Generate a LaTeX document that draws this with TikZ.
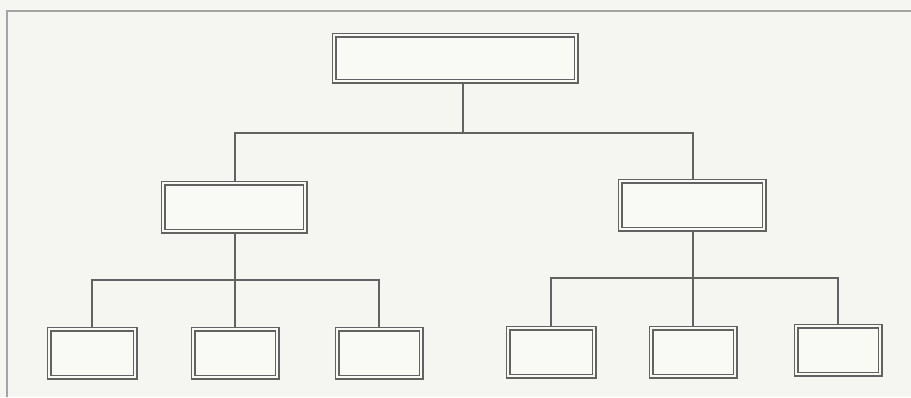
\documentclass[tikz,border=0pt]{standalone}
\usetikzlibrary{backgrounds}
\definecolor{paper}{HTML}{F5F6F1}
\definecolor{boxfill}{HTML}{F9F9F6}
\definecolor{ink}{HTML}{626262}
\definecolor{frameink}{HTML}{A4A4A4}
\begin{document}
\begin{tikzpicture}[x=1pt,y=-1pt,
  box/.style={draw=ink,line width=1.5pt,double=boxfill,double distance=2pt,
    fill=boxfill,rectangle,inner sep=0pt,minimum height=48pt},
  conn/.style={draw=ink,line width=1.2pt}]
\useasboundingbox (0,0) rectangle (911,397);
% boxes
\node[box,minimum width=242pt,minimum height=46pt] (top) at (455,58) {};
\node[box,minimum width=142pt] (midL) at (234,207) {};
\node[box,minimum width=144pt] (midR) at (692,205) {};
\node[box,minimum width=86pt] (b1) at (92,353) {};
\node[box,minimum width=84pt] (b2) at (235,353) {};
\node[box,minimum width=84pt] (b3) at (379,353) {};
\node[box,minimum width=86pt] (b4) at (551,352) {};
\node[box,minimum width=84pt] (b5) at (693,352) {};
\node[box,minimum width=84pt] (b6) at (838,350) {};
\coordinate (j1) at (463,133);
\coordinate (jL) at (235,280);
\coordinate (jR) at (693,278);
\begin{scope}[on background layer]
  \fill[paper] (0,0) rectangle (911,397);
  \draw[frameink,line width=1.2pt] (911,11) -- (7,11) -- (7,397);
  \draw[conn] (top.south -| j1) -- (j1);
  \draw[conn] (midL.north -| jL) |- (j1) -| (midR.north -| jR);
  \draw[conn] (midL.south -| jL) -- (jL);
  \draw[conn] (b1.north) |- (jL) -| (b3.north);
  \draw[conn] (jL) -- (b2.north);
  \draw[conn] (midR.south -| jR) -- (jR);
  \draw[conn] (b4.north) |- (jR) -| (b6.north);
  \draw[conn] (jR) -- (b5.north);
\end{scope}
\end{tikzpicture}
\end{document}
